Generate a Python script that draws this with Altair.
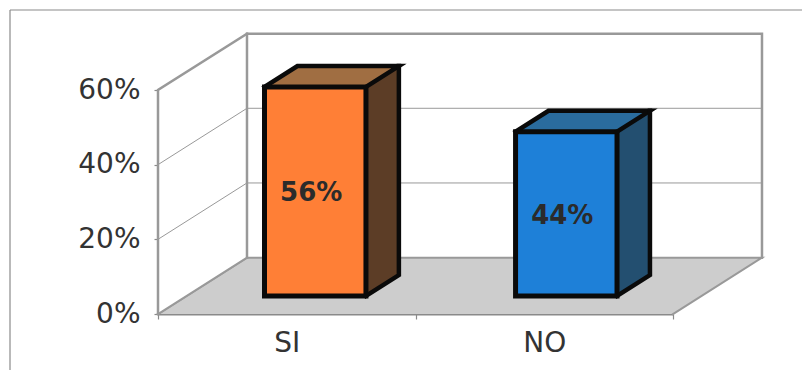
import altair as alt
import pandas as pd

categories = ["SI", "NO"]
values = [56, 44]
labels = ["56%", "44%"]
front_colors = ["#FF7F36", "#1E80D8"]
top_colors = ["#A06E42", "#2A6C9E"]
side_colors = ["#5C3D26", "#234F70"]
y_ticks = [0, 20, 40, 60]
x_ticks = [0, 0.5, 1, 1.5, 2]
grid_values = [20, 40]

DX, DY = 0.3456, 15.1      # oblique projection of full depth, in axis units
D0, D1 = 0.32, 0.69        # bar front/back depth
HALF = 0.197               # half bar width
XMAX, YMAX = 2, 60
X_SCALE = alt.Scale(domain=[0, XMAX], nice=False, zero=False)
Y_SCALE = alt.Scale(domain=[0, YMAX], nice=False)

label_map = "datum.value == 0.5 ? '%s' : datum.value == 1.5 ? '%s' : ''" % (categories[0], categories[1])
X_AXIS = alt.Axis(values=x_ticks, labelExpr=label_map, grid=False, title=None,
                  domainColor="#8a8a8a", domainWidth=2, tickColor="#8a8a8a", tickSize=5, tickWidth=1.2,
                  tickOpacity={"condition": {"test": "datum.value == 0.5 || datum.value == 1.5", "value": 0}, "value": 1},
                  labelFont="DejaVu Sans", labelFontSize=28, labelColor="#333333",
                  labelPadding=10, labelAngle=0, labelOverlap=False, labelFlush=False)
Y_AXIS = alt.Axis(values=y_ticks, labelExpr="datum.value + '%'", grid=False, title=None,
                  domain=False, tickColor="#8a8a8a", tickSize=4, tickWidth=1.2,
                  labelFont="DejaVu Sans", labelFontSize=28, labelColor="#333333",
                  labelPadding=14)


def xe(field="x"):
    return alt.X(f"{field}:Q", scale=X_SCALE, axis=X_AXIS)


def ye(field="y"):
    return alt.Y(f"{field}:Q", scale=Y_SCALE, axis=Y_AXIS)


def outline(points, color, width, join="miter"):
    df = pd.DataFrame([{"x": p[0], "y": p[1], "i": i} for i, p in enumerate(points)])
    return alt.Chart(df).mark_line(color=color, strokeWidth=width, strokeJoin=join, strokeCap="square").encode(
        x=xe(), y=ye(), order="i:O")


def vface(x0, x1, y0a, y0b, y1a, y1b, color):
    df = pd.DataFrame([{"x": x0, "y": y0a, "y2": y0b}, {"x": x1, "y": y1a, "y2": y1b}])
    return alt.Chart(df).mark_area(color=color, orient="vertical", opacity=1).encode(
        x=xe(), y=ye(), y2="y2:Q")


def hface(y0, y1, x0a, x0b, x1a, x1b, color):
    df = pd.DataFrame([{"y": y0, "x": x0a, "x2": x0b}, {"y": y1, "x": x1a, "x2": x1b}])
    return alt.Chart(df).mark_area(color=color, orient="horizontal", opacity=1).encode(
        y=ye(), x=xe(), x2="x2:Q")


layers = []

# Outer frame
layers.append(alt.Chart(pd.DataFrame({"a": [0]})).mark_rule(color="#8a8a8a", strokeWidth=1.2).encode(
    x=alt.value(-148), x2=alt.value(644), y=alt.value(-80)))
layers.append(alt.Chart(pd.DataFrame({"a": [0]})).mark_rule(color="#8a8a8a", strokeWidth=1.2).encode(
    x=alt.value(-148), y=alt.value(-80), y2=alt.value(280)))

# Floor, walls
layers.append(hface(0, DY, 0, XMAX, DX, XMAX + DX, "#CDCDCD"))
layers.append(outline([(0, 0), (DX, DY), (XMAX + DX, DY), (XMAX, 0)], "#999999", 2))
layers.append(vface(0, DX, 0, YMAX, DY, YMAX + DY, "#FFFFFF"))

# Gridlines
for g in grid_values:
    layers.append(outline([(0, g), (DX, g + DY), (XMAX + DX, g + DY)], "#999999", 1))

# Wall borders
layers.append(outline([(0, 0), (0, YMAX), (DX, YMAX + DY), (XMAX + DX, YMAX + DY), (XMAX + DX, DY)], "#999999", 2.5))
layers.append(outline([(DX, YMAX + DY), (DX, DY)], "#999999", 2.5))
layers.append(outline([(0, 0), (DX, DY)], "#999999", 2))

# Bars
text_rows = []
for i, v in enumerate(values):
    c = 0.5 + 0.975 * i
    l, r = c - HALF, c + HALF
    xa, ya = D0 * DX, D0 * DY
    xb, yb = D1 * DX, D1 * DY
    fl, fr = l + xa, r + xa
    bl, br = l + xb, r + xb
    base, top = ya, v + ya
    back_base, back_top = yb, v + yb
    layers.append(vface(fr, br, base, top, back_base, back_top, side_colors[i]))
    layers.append(hface(top, back_top, fl, fr, bl, br, top_colors[i]))
    layers.append(vface(fl, fr, base, top, base, top, front_colors[i]))
    layers.append(outline([(fl, base), (fl, top), (fr, top), (fr, base), (fl, base)], "#0a0a0a", 5))
    layers.append(outline([(fl, top), (bl, back_top), (br, back_top), (fr, top)], "#0a0a0a", 4.5))
    layers.append(outline([(br, back_top), (br, back_base), (fr, base)], "#0a0a0a", 4.5))
    text_rows.append({"x": (fl + fr) / 2, "y": (base + top) / 2, "t": labels[i]})

layers.append(alt.Chart(pd.DataFrame(text_rows)).mark_text(
    font="DejaVu Sans", fontSize=26, fontWeight="bold", color="#2b2b2b", dx=-4, dy=2, align="center", baseline="middle"
).encode(x=xe(), y=ye(), text="t:N"))

chart = alt.layer(*layers).properties(
    width=515, height=224,
    padding={"left": 150, "top": 82, "right": 129, "bottom": 56},
    autosize=alt.AutoSizeParams(type="none"),
    background="white",
).configure_view(stroke=None)

chart.save("out.html", embed_options={"renderer": "svg", "actions": False})
